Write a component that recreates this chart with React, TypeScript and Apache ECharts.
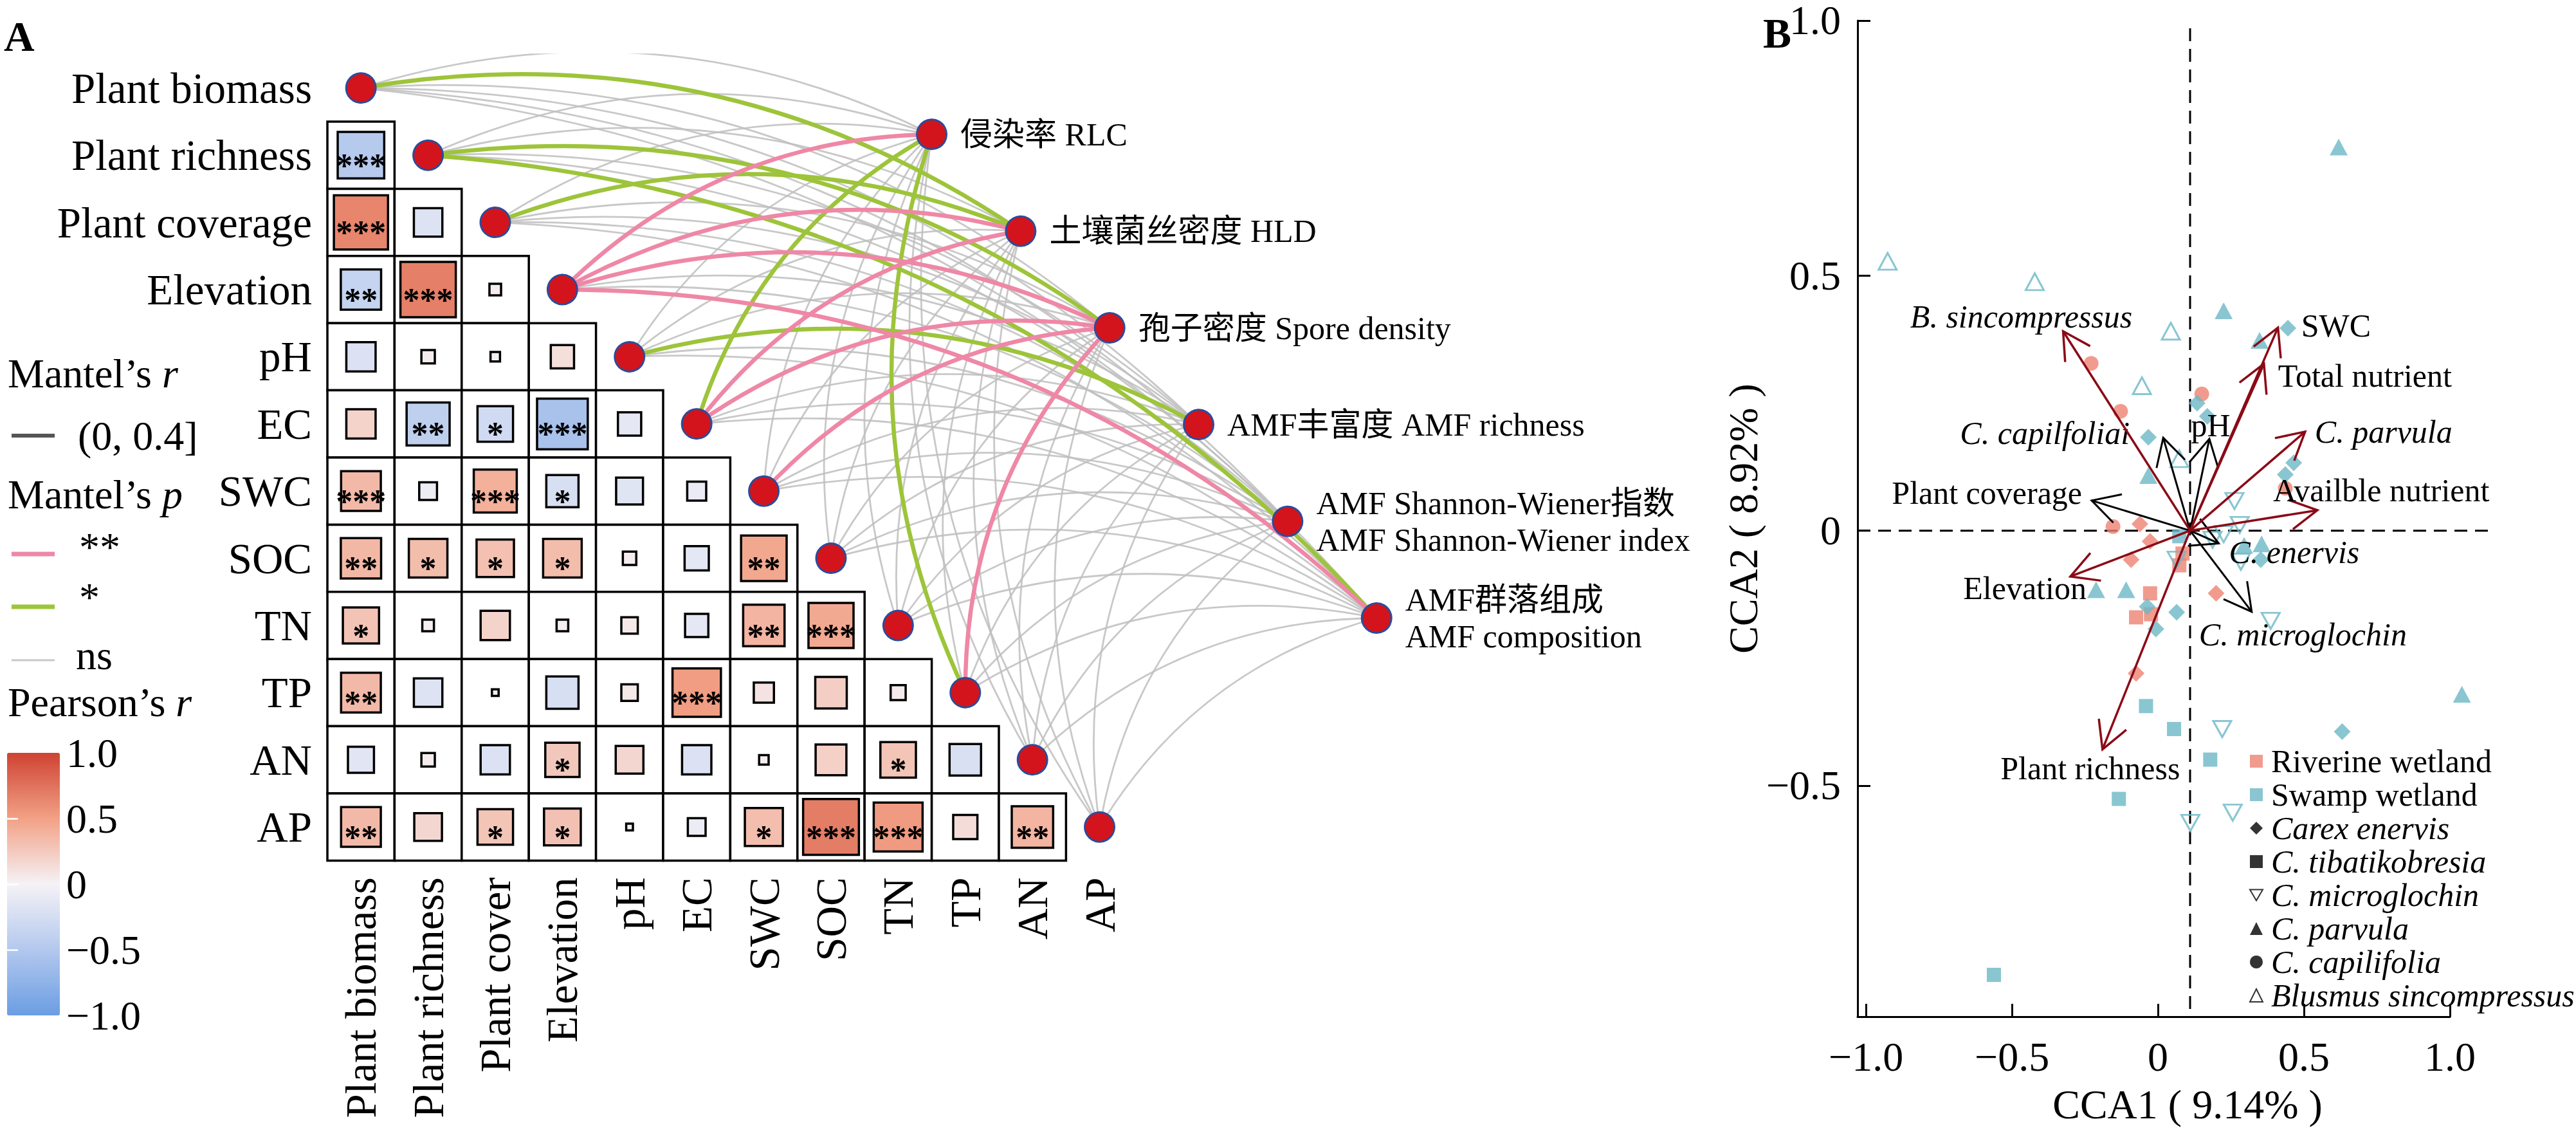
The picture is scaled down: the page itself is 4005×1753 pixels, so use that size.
import React, { useEffect, useRef } from "react";
import * as echarts from "echarts";

const FONT = "'Liberation Serif', 'Times New Roman', 'Noto Sans CJK SC', serif";

// ---------------- Panel A data ----------------
const rowLabels = [
  "Plant biomass", "Plant richness", "Plant coverage", "Elevation", "pH", "EC",
  "SWC", "SOC", "TN", "TP", "AN", "AP",
];
const colLabels = [
  "Plant biomass", "Plant richness", "Plant cover", "Elevation", "pH", "EC",
  "SWC", "SOC", "TN", "TP", "AN", "AP",
];
// Pearson's r, lower triangle (row i, columns 0..i-1)
const pearsonR: number[][] = [
  [],
  [-0.48],
  [0.65, -0.18],
  [-0.36, 0.68, 0.03],
  [-0.19, 0.04, 0.02, 0.12],
  [0.19, -0.41, -0.28, -0.57, -0.12],
  [0.35, -0.07, 0.41, -0.23, -0.16, -0.08],
  [0.36, 0.33, 0.31, 0.33, 0.04, -0.13, 0.46],
  [0.29, 0.03, 0.19, 0.03, 0.06, -0.12, 0.38, 0.45],
  [0.35, -0.18, 0.01, -0.23, 0.06, 0.52, 0.09, 0.22, 0.05],
  [-0.15, 0.04, -0.19, 0.26, 0.17, -0.19, 0.02, 0.21, 0.28, -0.22],
  [0.35, 0.17, 0.28, 0.3, 0.01, -0.07, 0.32, 0.69, 0.53, 0.13, 0.38],
];
const pearsonSig: string[][] = [
  [],
  ["***"],
  ["***", ""],
  ["**", "***", ""],
  ["", "", "", ""],
  ["", "**", "*", "***", ""],
  ["***", "", "***", "*", "", ""],
  ["**", "*", "*", "*", "", "", "**"],
  ["*", "", "", "", "", "", "**", "***"],
  ["**", "", "", "", "", "***", "", "", ""],
  ["", "", "", "*", "", "", "", "", "*", ""],
  ["**", "", "*", "*", "", "", "*", "***", "***", "", "**"],
];
const amfTargets = [
  "侵染率 RLC",
  "土壤菌丝密度 HLD",
  "孢子密度 Spore density",
  "AMF丰富度 AMF richness",
  "AMF Shannon-Wiener指数\nAMF Shannon-Wiener index",
  "AMF群落组成\nAMF composition",
];
// Mantel's p class for each environmental variable (row) vs AMF target (column)
const mantelP: string[][] = [
  ["ns", "*", "ns", "ns", "ns", "ns"],
  ["ns", "ns", "*", "ns", "ns", "*"],
  ["ns", "*", "ns", "ns", "ns", "ns"],
  ["**", "**", "**", "ns", "ns", "**"],
  ["ns", "ns", "ns", "*", "ns", "ns"],
  ["*", "**", "**", "ns", "ns", "ns"],
  ["ns", "ns", "**", "ns", "ns", "ns"],
  ["ns", "ns", "ns", "ns", "ns", "ns"],
  ["ns", "ns", "ns", "ns", "ns", "ns"],
  ["*", "ns", "**", "ns", "ns", "ns"],
  ["ns", "ns", "ns", "ns", "ns", "ns"],
  ["ns", "ns", "ns", "ns", "ns", "ns"],
];
const colorbarTicks = [-0.5, 0, 0.5];

// ---------------- Panel B data ----------------
const ccaOrigin = [0.11, 0];
const arrowNames = [
  "C. capilfoliai", "pH", "Plant coverage", "C. enervis", "C. microglochin",
  "B. sincompressus", "SWC", "Total nutrient", "C. parvula", "Availble nutrient", "Elevation", "Plant richness",
];
const arrowCCA1 = [0.018, 0.176, -0.227, 0.208, 0.321, -0.325, 0.411, 0.363, 0.504, 0.546, -0.3, -0.19];
const arrowCCA2 = [0.182, 0.18, 0.059, -0.025, -0.159, 0.391, 0.398, 0.327, 0.194, 0.04, -0.09, -0.429];
const arrowKind = ["b", "b", "b", "b", "b", "r", "r", "r", "r", "r", "r", "r"];

const speciesNames = [
  "Carex enervis", "C. tibatikobresia", "C. microglochin", "C. parvula", "C. capilifolia", "Blusmus sincompressus",
];
// [CCA1, CCA2, species index]
const riverinePoints: number[][] = [
  [-0.229, 0.328, 4], [0.15, 0.268, 4], [-0.128, 0.234, 4], [0.436, 0.083, 4], [-0.154, 0.008, 4],
  [-0.062, 0.013, 0], [-0.027, -0.021, 0], [-0.092, -0.057, 0], [0.199, -0.123, 0], [-0.075, -0.28, 0],
  [0.084, -0.045, 1], [0.073, -0.068, 1], [-0.027, -0.123, 1], [-0.075, -0.17, 1], [-0.024, -0.164, 1],
];
const swampPoints: number[][] = [
  [0.619, 0.752, 3], [0.225, 0.431, 3], [0.348, 0.373, 3], [-0.033, 0.108, 3], [0.295, -0.029, 3],
  [0.355, -0.026, 3], [-0.212, -0.116, 3], [-0.109, -0.116, 3], [1.041, -0.321, 3],
  [-0.926, 0.528, 5], [-0.422, 0.488, 5], [0.044, 0.391, 5], [-0.055, 0.284, 5], [0.073, 0.141, 5],
  [0.445, 0.397, 0], [0.134, 0.25, 0], [0.169, 0.224, 0], [-0.033, 0.183, 0], [0.465, 0.133, 0],
  [0.436, 0.11, 0], [0.352, -0.057, 0], [-0.037, -0.149, 0], [0.064, -0.16, 0], [-0.007, -0.193, 0],
  [0.631, -0.394, 0],
  [0.262, 0.058, 2], [0.28, 0.011, 2], [0.225, -0.007, 2], [0.187, -0.018, 2], [0.284, -0.061, 2],
  [0.064, -0.057, 2], [0.386, -0.177, 2], [0.22, -0.389, 2], [0.256, -0.553, 2], [0.111, -0.573, 2],
  [0.073, -0.011, 1], [-0.041, -0.344, 1], [0.055, -0.389, 1], [0.179, -0.449, 1], [-0.134, -0.526, 1],
  [-0.562, -0.871, 1],
];
const ccaXTicks = [-1, -0.5, 0, 0.5, 1];
const ccaYTicks = [-0.5, 0, 0.5, 1];

// ---------------- styles / layout ----------------
const CELL = 104.4;
const XMIN_B = -1.029;
const YMIN_B = -0.953;
const RIVERINE = "#EE8272";
const SWAMP = "#6CB8C6";
const DOWN_TRI = "path://M0,0L20,0L10,17Z";
const speciesSymbol = ["diamond", "rect", DOWN_TRI, "triangle", "circle", "triangle"];
const speciesHollow = [false, false, true, false, false, true];
const speciesSize: any[] = [26, 22, [28, 25], [28, 26], 23, [28, 26]];
const linkStyle: Record<string, any> = {
  ns: { color: "#BEBEBE", width: 2.8, opacity: 0.85 },
  "*": { color: "#9DC43A", width: 6.5, opacity: 1 },
  "**": { color: "#EF87A6", width: 6.5, opacity: 1 },
};
const arrowColor: Record<string, string> = { r: "#8A0A16", b: "#000000" };
// label offsets in px relative to arrow tip: dx, dy, align
const arrowLabelPlacement: any[] = [
  [-52, -7, "right"],
  [2, -21, "center"],
  [-15, -12, "right"],
  [16, 14, "left"],
  [-82, 35, "left"],
  [-65, -23, "center"],
  [36, -3, "left"],
  [22, 19, "left"],
  [15, 0, "left"],
  [-69, -31, "left"],
  [25, 18, "right"],
  [-19, 29, "center"],
];

function targetPos(k: number) {
  return [9.0 + 1.325 * k, 1.19 + 1.44 * k];
}
function fmtTick(v: number) {
  if (v === 0) return "0";
  return (v < 0 ? "\u2212" : "") + Math.abs(v).toFixed(1);
}

function buildOption() {
  const heatData: number[][] = [];
  const heatStars: string[] = [];
  pearsonR.forEach((row, i) =>
    row.forEach((r, j) => {
      heatData.push([j, i, r]);
      heatStars.push(pearsonSig[i][j]);
    })
  );

  const links: Record<string, any[]> = { ns: [], "*": [], "**": [] };
  mantelP.forEach((row, i) =>
    row.forEach((p, k) => {
      links[p].push({ coords: [[i + 0.5, i + 0.5], targetPos(k)] });
    })
  );
  const linkSeries = ["ns", "*", "**"].map((p) => ({
    type: "lines",
    name: p,
    coordinateSystem: "cartesian2d",
    xAxisIndex: 0,
    yAxisIndex: 0,
    silent: true,
    z: 1,
    data: links[p],
    lineStyle: { ...linkStyle[p], curveness: 0.2 },
  }));

  const siteData = (pts: number[][], color: string) =>
    pts.map(([x, y, s]) => ({
      value: [x, y],
      symbol: speciesSymbol[s],
      symbolSize: speciesSize[s],
      itemStyle: speciesHollow[s]
        ? { color: "rgba(255,255,255,0)", borderColor: color, borderWidth: 3 }
        : { color },
    }));

  const legendSpecies = speciesNames.map((n, s) => ({
    type: "scatter",
    name: n,
    xAxisIndex: 2,
    yAxisIndex: 2,
    data: [],
    symbol: speciesSymbol[s],
    itemStyle: speciesHollow[s]
      ? { color: "#ffffff", borderColor: "#000", borderWidth: 2.5 }
      : { color: "#000" },
  }));

  const textBase = { fontFamily: FONT, fill: "#000", verticalAlign: "middle" };
  const richI = { i: { fontStyle: "italic", fontSize: 64, fontFamily: FONT } };
  const graphic: any[] = [
    { type: "text", x: 6, y: 56, style: { ...textBase, text: "A", fontSize: 66, fontWeight: "bold" } },
    { type: "text", x: 2741, y: 51, style: { ...textBase, text: "B", fontSize: 66, fontWeight: "bold" } },
    { type: "text", x: 12, y: 580, style: { ...textBase, text: "Mantel\u2019s {i|r}", fontSize: 64, rich: richI } },
    { type: "line", shape: { x1: 18, y1: 677, x2: 85, y2: 677 }, style: { stroke: "#555555", lineWidth: 6 } },
    { type: "text", x: 121, y: 677, style: { ...textBase, text: "(0, 0.4]", fontSize: 64 } },
    { type: "text", x: 12, y: 768, style: { ...textBase, text: "Mantel\u2019s {i|p}", fontSize: 64, rich: richI } },
    { type: "line", shape: { x1: 18, y1: 861, x2: 85, y2: 861 }, style: { stroke: linkStyle["**"].color, lineWidth: 7 } },
    { type: "text", x: 123, y: 850, style: { ...textBase, text: "**", fontSize: 64 } },
    { type: "line", shape: { x1: 18, y1: 943, x2: 85, y2: 943 }, style: { stroke: linkStyle["*"].color, lineWidth: 7 } },
    { type: "text", x: 123, y: 928, style: { ...textBase, text: "*", fontSize: 64 } },
    { type: "line", shape: { x1: 18, y1: 1026, x2: 85, y2: 1026 }, style: { stroke: "#C8C8C8", lineWidth: 3 } },
    { type: "text", x: 118, y: 1018, style: { ...textBase, text: "ns", fontSize: 64 } },
    { type: "text", x: 12, y: 1091, style: { ...textBase, text: "Pearson\u2019s {i|r}", fontSize: 64, rich: richI } },
  ];

  const axisLabelBig = { fontFamily: FONT, fontSize: 64, color: "#000" };

  return {
    animation: false,
    backgroundColor: "#ffffff",
    textStyle: { fontFamily: FONT },
    grid: [
      { left: 509, top: 84.6, width: CELL * 16, height: CELL * 12 },
      { left: 2888, top: 19, width: 921, height: 1561 },
      { left: 11, top: 1170, width: 82, height: 408 },
    ],
    xAxis: [
      { gridIndex: 0, type: "value", min: 0, max: 16, show: false },
      {
        gridIndex: 0,
        type: "category",
        position: "bottom",
        data: [...colLabels, "", "", "", ""],
        axisLine: { show: false },
        axisTick: { show: false },
        axisLabel: { ...axisLabelBig, fontSize: 67, rotate: 90, interval: 0, margin: 26 },
      },
      {
        gridIndex: 1,
        type: "value",
        min: XMIN_B,
        max: 1.0,
        splitLine: { show: false },
        axisLine: { onZero: false, lineStyle: { color: "#000", width: 3 } },
        axisTick: { inside: true, length: 20, lineStyle: { color: "#000", width: 3 }, customValues: ccaXTicks },
        axisLabel: { ...axisLabelBig, margin: 30, customValues: ccaXTicks, formatter: (v: number) => fmtTick(v) },
        name: "CCA1 ( 9.14% )",
        nameLocation: "middle",
        nameGap: 104,
        nameTextStyle: { fontFamily: FONT, fontSize: 64, color: "#000", padding: [0, 0, 0, 105] },
      },
      { gridIndex: 2, type: "value", min: 0, max: 1, show: false },
    ],
    yAxis: [
      { gridIndex: 0, type: "value", min: 0, max: 12, inverse: true, show: false },
      {
        gridIndex: 0,
        type: "category",
        position: "left",
        inverse: true,
        data: rowLabels,
        axisLine: { show: false },
        axisTick: { show: false },
        axisLabel: { ...axisLabelBig, fontSize: 67, interval: 0, margin: 24 },
      },
      {
        gridIndex: 1,
        type: "value",
        min: YMIN_B,
        max: 1.0,
        splitLine: { show: false },
        axisLine: { onZero: false, lineStyle: { color: "#000", width: 3 } },
        axisTick: { inside: true, length: 20, lineStyle: { color: "#000", width: 3 }, customValues: ccaYTicks },
        axisLabel: {
          ...axisLabelBig,
          margin: 26,
          padding: [14, 0, 0, 0],
          customValues: ccaYTicks,
          formatter: (v: number) => fmtTick(v),
        },
        name: "CCA2 ( 8.92% )",
        nameLocation: "middle",
        nameGap: 110,
        nameTextStyle: { fontFamily: FONT, fontSize: 64, color: "#000" },
      },
      {
        gridIndex: 2,
        type: "value",
        position: "right",
        min: -1,
        max: 1,
        interval: 0.5,
        z: 10,
        splitLine: { show: false },
        axisLine: { show: false },
        axisTick: { inside: true, length: 17, lineStyle: { color: "#ffffff", width: 2.5 }, customValues: colorbarTicks },
        axisLabel: { ...axisLabelBig, margin: 10, formatter: (v: number) => fmtTick(v) },
      },
      {
        gridIndex: 2,
        type: "value",
        position: "left",
        min: -1,
        max: 1,
        interval: 0.5,
        z: 10,
        splitLine: { show: false },
        axisLine: { show: false },
        axisTick: { inside: true, length: 17, lineStyle: { color: "#ffffff", width: 2.5 }, customValues: colorbarTicks },
        axisLabel: { show: false },
      },
    ],
    visualMap: {
      type: "continuous",
      seriesIndex: 0,
      dimension: 2,
      min: -1,
      max: 1,
      calculable: false,
      hoverLink: false,
      left: 11,
      top: 1170,
      padding: 0,
      itemWidth: 82,
      itemHeight: 408,
      inRange: { color: ["#6B9DE3", "#B3C8EE", "#F5F2F6", "#F2A186", "#CE4332"] },
    },
    legend: {
      orient: "vertical",
      left: 3497,
      top: 1158,
      padding: 0,
      itemWidth: 20,
      itemHeight: 20,
      itemGap: 2,
      selectedMode: false,
      data: ["Riverine wetland", "Swamp wetland", ...speciesNames],
      formatter: (name: string) => (speciesNames.indexOf(name) >= 0 ? `{i|${name}}` : name),
      textStyle: {
        fontFamily: FONT,
        fontSize: 50,
        lineHeight: 50,
        color: "#000",
        padding: [0, 0, 0, 8],
        rich: { i: { fontStyle: "italic", fontFamily: FONT, fontSize: 50, lineHeight: 50, color: "#000" } },
      },
    },
    graphic,
    series: [
      {
        type: "custom",
        name: "Pearson",
        coordinateSystem: "cartesian2d",
        xAxisIndex: 0,
        yAxisIndex: 0,
        z: 2,
        silent: true,
        data: heatData,
        renderItem: (params: any, api: any) => {
          const j = api.value(0);
          const i = api.value(1);
          const r = api.value(2);
          const a = api.coord([j, i]);
          const b = api.coord([j + 1, i + 1]);
          const w = b[0] - a[0];
          const h = b[1] - a[1];
          const s = Math.sqrt(Math.abs(r)) * w;
          const cx = a[0] + w / 2;
          const cy = a[1] + h / 2;
          const stars = heatStars[params.dataIndex];
          const children: any[] = [
            { type: "rect", shape: { x: a[0], y: a[1], width: w, height: h }, style: { fill: "#fff", stroke: "#000", lineWidth: 3.5 } },
            {
              type: "rect",
              shape: { x: cx - s / 2, y: cy - s / 2, width: s, height: s },
              style: { fill: api.visual("color"), stroke: "#000", lineWidth: 3.5 },
            },
          ];
          if (stars) {
            children.push({
              type: "text",
              x: cx,
              y: cy + 16,
              style: { text: stars, fill: "#000", fontSize: 52, fontWeight: "bold", fontFamily: FONT, align: "center", verticalAlign: "middle" },
            });
          }
          return { type: "group", children };
        },
      },
      ...linkSeries,
      {
        type: "scatter",
        name: "env nodes",
        xAxisIndex: 0,
        yAxisIndex: 0,
        z: 5,
        silent: true,
        symbolSize: 46,
        itemStyle: { color: "#D3141C", borderColor: "#2B4C9B", borderWidth: 3, opacity: 1 },
        data: rowLabels.map((n, i) => ({ name: n, value: [i + 0.5, i + 0.5] })),
      },
      {
        type: "scatter",
        name: "AMF nodes",
        xAxisIndex: 0,
        yAxisIndex: 0,
        z: 5,
        silent: true,
        symbolSize: 46,
        itemStyle: { color: "#D3141C", borderColor: "#2B4C9B", borderWidth: 3, opacity: 1 },
        label: {
          show: true,
          position: "right",
          distance: 20,
          formatter: "{b}",
          fontFamily: FONT,
          fontSize: 50,
          lineHeight: 57,
          color: "#000",
        },
        data: amfTargets.map((n, k) => ({ name: n, value: targetPos(k) })),
      },
      // Panel B
      {
        type: "custom",
        name: "refLines",
        coordinateSystem: "cartesian2d",
        xAxisIndex: 2,
        yAxisIndex: 2,
        silent: true,
        z: 1,
        data: [ccaOrigin],
        renderItem: (params: any, api: any) => {
          const x0 = api.value(0);
          const y0 = api.value(1);
          const v1 = api.coord([x0, 0.985]);
          const v2 = api.coord([x0, YMIN_B]);
          const h1 = api.coord([XMIN_B, y0]);
          const h2 = api.coord([1.14, y0]);
          const st = { stroke: "#000", lineWidth: 3, lineDash: [20, 12] };
          return {
            type: "group",
            children: [
              { type: "line", shape: { x1: v1[0], y1: v1[1], x2: v2[0], y2: v2[1] }, style: st },
              { type: "line", shape: { x1: h1[0], y1: h1[1], x2: h2[0], y2: h2[1] }, style: st },
            ],
          };
        },
      },
      {
        type: "scatter",
        name: "Riverine wetland",
        xAxisIndex: 2,
        yAxisIndex: 2,
        clip: false,
        z: 3,
        symbol: "rect",
        itemStyle: { color: RIVERINE },
        data: siteData(riverinePoints, RIVERINE),
      },
      {
        type: "scatter",
        name: "Swamp wetland",
        xAxisIndex: 2,
        yAxisIndex: 2,
        clip: false,
        z: 3,
        symbol: "rect",
        itemStyle: { color: SWAMP },
        data: siteData(swampPoints, SWAMP),
      },
      ...legendSpecies,
      {
        type: "custom",
        name: "biplot arrows",
        coordinateSystem: "cartesian2d",
        xAxisIndex: 2,
        yAxisIndex: 2,
        silent: true,
        z: 6,
        data: arrowCCA1.map((x, i) => [x, arrowCCA2[i]]),
        renderItem: (params: any, api: any) => {
          const idx = params.dataIndex;
          const o = api.coord(ccaOrigin);
          const t = api.coord([api.value(0), api.value(1)]);
          const kind = arrowKind[idx];
          const color = arrowColor[kind];
          const lw = kind === "r" ? 3.5 : 3;
          const ang = Math.atan2(t[1] - o[1], t[0] - o[0]);
          const HL = 48;
          const HA = 0.5;
          const p1 = [t[0] - HL * Math.cos(ang - HA), t[1] - HL * Math.sin(ang - HA)];
          const p2 = [t[0] - HL * Math.cos(ang + HA), t[1] - HL * Math.sin(ang + HA)];
          const [dx, dy, align] = arrowLabelPlacement[idx];
          const name = arrowNames[idx];
          const italic = /^[A-Z]\.\s/.test(name);
          return {
            type: "group",
            children: [
              { type: "line", shape: { x1: o[0], y1: o[1], x2: t[0], y2: t[1] }, style: { stroke: color, lineWidth: lw } },
              { type: "polyline", shape: { points: [p1, t, p2] }, style: { stroke: color, lineWidth: lw, fill: "none" } },
              {
                type: "text",
                x: t[0] + dx,
                y: t[1] + dy,
                style: {
                  text: name,
                  fontFamily: FONT,
                  fontSize: 50,
                  fontStyle: italic ? "italic" : "normal",
                  fill: "#000",
                  align,
                  verticalAlign: "middle",
                },
              },
            ],
          };
        },
      },
    ],
  };
}

export default function App() {
  const ref = useRef<HTMLDivElement>(null);
  useEffect(() => {
    document.body.style.margin = "0";
    document.body.style.overflow = "hidden";
    const chart = echarts.init(ref.current as HTMLDivElement, null, { renderer: "svg" });
    chart.setOption(buildOption() as any);
    return () => chart.dispose();
  }, []);
  return (
    <div
      ref={ref}
      style={{ position: "fixed", left: 0, top: 0, width: 4005, height: 1753, background: "#ffffff" }}
    />
  );
}
